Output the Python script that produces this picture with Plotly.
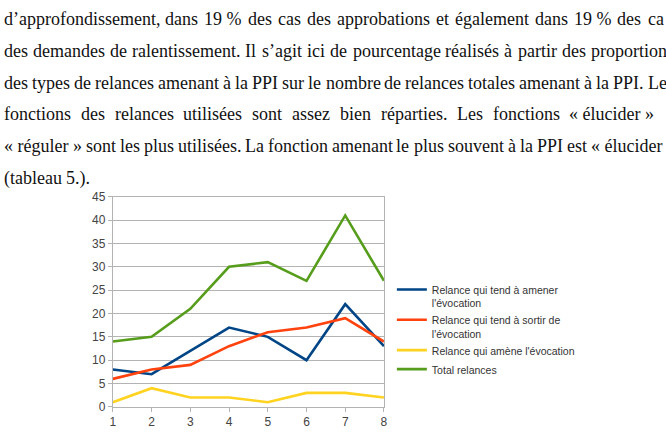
import plotly.graph_objects as go

# ---------------- data ----------------
categories = [1, 2, 3, 4, 5, 6, 7, 8]
relance_amener = [8, 7, 12, 17, 15, 10, 22, 13]
relance_sortir = [6, 8, 9, 13, 16, 17, 19, 14]
relance_amene = [1, 4, 2, 2, 1, 3, 3, 2]
total_relances = [14, 15, 21, 30, 31, 27, 41, 27]
series_names = [
    "Relance qui tend à amener<br>l'évocation",
    "Relance qui tend à sortir de<br>l'évocation",
    "Relance qui amène l'évocation",
    "Total relances",
]
y_ticks = [0, 5, 10, 15, 20, 25, 30, 35, 40, 45]

NB = "\u00a0"
# paragraph lines as visible in the picture (cut at the right edge)
text_lines = [
    "d’approfondissement, dans 19" + NB + "% des cas des approbations et également dans 19" + NB + "% des ca",
    "des demandes de ralentissement. Il s’agit ici de pourcentage réalisés à partir des proportion",
    "des types de relances amenant à la PPI sur le nombre de relances totales amenant à la PPI. Le",
    "fonctions des relances utilisées sont assez bien réparties. Les fonctions «" + NB + "élucider" + NB + "»",
    "«" + NB + "réguler" + NB + "» sont les plus utilisées. La fonction amenant le plus souvent à la PPI est «" + NB + "élucider",
    "(tableau 5.).",
]

# ---------------- layout helpers ----------------
W, H = 666, 441
colors = ["#004586", "#ff420e", "#ffd320", "#579d1c"]
series = [relance_amener, relance_sortir, relance_amene, total_relances]

def px(x):
    return x / W

def py(y):
    return 1 - y / H

# Times metrics (1/1000 em) used to justify the paragraph text
TW = {
    " ": 250, NB: 250, "a": 444, "b": 500, "c": 444, "d": 500, "e": 444, "f": 333, "g": 500,
    "h": 500, "i": 278, "j": 278, "k": 500, "l": 278, "m": 778, "n": 500, "o": 500,
    "p": 500, "q": 500, "r": 333, "s": 389, "t": 278, "u": 500, "v": 500, "w": 722,
    "x": 500, "y": 500, "z": 444, "é": 444, "è": 444, "à": 444, "’": 333, ",": 250,
    ".": 250, "%": 833, "«": 500, "»": 500, "(": 333, ")": 333, "I": 333, "P": 556,
    "L": 611, "0": 500, "1": 500, "2": 500, "3": 500, "4": 500, "5": 500, "6": 500,
    "7": 500, "8": 500, "9": 500,
}
FS = 18

def wpx(word):
    return sum(TW.get(c, 500) for c in word) * FS / 1000.0

line_space = [6.5, 5.6, 4.4, 10.4, 4.4, 4.5]
line_y = [12, 45, 78, 111, 144, 177]

fig = go.Figure()
for name, vals, col in zip(series_names, series, colors):
    fig.add_trace(go.Scatter(
        x=categories, y=vals, mode="lines", name=name,
        line=dict(color=col, width=2.6), cliponaxis=False,
    ))

annotations = []
for line, sp, yc in zip(text_lines, line_space, line_y):
    x = 0.0
    for word in line.split(" "):
        annotations.append(dict(
            x=px(x), y=py(yc), xref="paper", yref="paper", text=word,
            showarrow=False, xanchor="left", yanchor="middle", borderpad=0,
            font=dict(family="Liberation Serif, Times New Roman, serif", size=FS, color="#111111"),
        ))
        x += wpx(word) + sp

axis_common = dict(
    showline=True, linecolor="#b3b3b3", linewidth=1, mirror=True,
    ticks="outside", ticklen=4, tickcolor="#b3b3b3", zeroline=False,
    tickfont=dict(family="Liberation Sans, Arial, sans-serif", size=12, color="#444444"),
)

fig.update_layout(
    width=W, height=H, margin=dict(l=0, r=0, t=0, b=0),
    paper_bgcolor="white", plot_bgcolor="white",
    xaxis=dict(domain=[px(111), px(385)], range=[1, 8], tickvals=categories,
               showgrid=False, **axis_common),
    yaxis=dict(domain=[py(413), py(196)], range=[0, 45], tickvals=y_ticks,
               showgrid=True, gridcolor="#b3b3b3", gridwidth=1, **axis_common),
    legend=dict(x=px(393), y=py(278), xanchor="left", yanchor="top",
                font=dict(family="Liberation Sans, Arial, sans-serif", size=10.5, color="#333333"),
                bgcolor="rgba(0,0,0,0)", valign="top", itemwidth=30),
    showlegend=True,
    annotations=annotations,
)

fig.write_html("out.html")
